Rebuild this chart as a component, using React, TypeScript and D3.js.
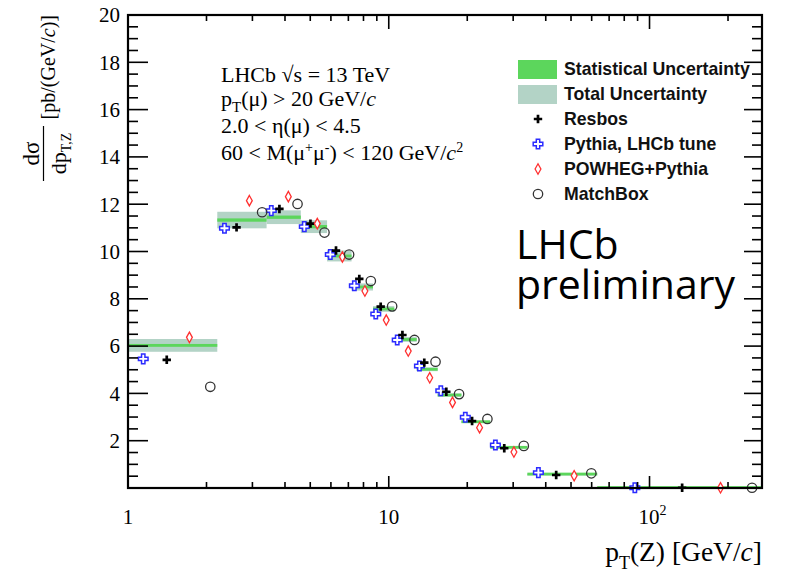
import React from "react";
import * as d3 from "d3";

// Z boson pT bins [GeV/c]
const binEdges = [0, 2.2, 3.4, 4.6, 5.8, 7.2, 8.7, 10.5, 12.8, 15.4, 19.0, 24.5, 34.0, 63.0, 270.0];

// measured cross-section per bin [pb/(GeV/c)]
const dataValues = [6.03, 11.33, 11.45, 11.05, 9.81, 8.5, 7.57, 6.28, 5.02, 3.93, 2.8, 1.72, 0.59, 0.02];
const statErr = [0.06, 0.07, 0.07, 0.07, 0.06, 0.06, 0.05, 0.05, 0.05, 0.04, 0.04, 0.03, 0.02, 0.01];
const totalErr = [0.27, 0.35, 0.29, 0.27, 0.23, 0.15, 0.12, 0.1, 0.08, 0.07, 0.05, 0.04, 0.02, 0.01];

// theory predictions
const resbos = [5.42, 11.02, 11.8, 11.18, 10.04, 8.84, 7.67, 6.47, 5.3, 4.07, 2.83, 1.68, 0.55, 0.01];
const pythia = [5.46, 10.98, 11.73, 11.05, 9.87, 8.55, 7.36, 6.26, 5.16, 4.11, 2.99, 1.82, 0.65, 0.01];
const powheg = [6.37, 12.15, 12.32, 11.18, 9.77, 8.33, 7.1, 5.79, 4.66, 3.62, 2.55, 1.52, 0.52, 0.01];
const matchbox = [4.28, 11.66, 12.01, 10.8, 9.87, 8.75, 7.68, 6.26, 5.34, 3.97, 2.92, 1.78, 0.62, 0.01];

const legendLabels = ["Statistical Uncertainty", "Total Uncertainty", "Resbos", "Pythia, LHCb tune", "POWHEG+Pythia", "MatchBox"];
const yTickLabels = [2, 4, 6, 8, 10, 12, 14, 16, 18, 20];
const xMajorTicks = [1, 10, 100];

const W = 787;
const H = 573;
const margin = { top: 15, right: 25, bottom: 85, left: 128 };

const serif = "'Liberation Serif', 'Times New Roman', serif";
const sans = "'Liberation Sans', Arial, sans-serif";

const STAT = "#5cd65c";
const TOTAL = "#b3d3c6";

// where each model sits inside a bin (fraction of bin width)
const modelOffsets = { pythia: 0.12, resbos: 0.34, powheg: 0.6, matchbox: 0.89 };

const Marker = ({ kind, cx, cy }: { kind: string; cx: number; cy: number }) => {
  if (kind === "resbos") {
    return (
      <path d={`M${cx - 4.2},${cy}H${cx + 4.2}M${cx},${cy - 4.2}V${cy + 4.2}`} stroke="#000" strokeWidth={2.7} fill="none" />
    );
  }
  if (kind === "pythia") {
    const a = 4.8, b = 1.7;
    const d = `M${cx - b},${cy - a}H${cx + b}V${cy - b}H${cx + a}V${cy + b}H${cx + b}V${cy + a}H${cx - b}V${cy + b}H${cx - a}V${cy - b}H${cx - b}Z`;
    return <path d={d} stroke="#2b2bff" strokeWidth={1.5} fill="#fff" />;
  }
  if (kind === "powheg") {
    return (
      <path d={`M${cx},${cy - 5.2}L${cx + 2.9},${cy}L${cx},${cy + 5.2}L${cx - 2.9},${cy}Z`} stroke="#ff3030" strokeWidth={1.3} fill="#fff" />
    );
  }
  return <circle cx={cx} cy={cy} r={4.7} stroke="#333" strokeWidth={1.3} fill="none" />;
};

export default function App() {
  const x = d3.scaleLog().domain([1, 270]).range([margin.left, W - margin.right]);
  const y = d3.scaleLinear().domain([0, 20]).range([H - margin.bottom, margin.top]);
  const x0 = margin.left, x1 = W - margin.right, y0 = H - margin.bottom, y1 = margin.top;

  const bins = dataValues.map((v, i) => ({
    lo: Math.max(binEdges[i], 1),
    hi: binEdges[i + 1],
    v,
    stat: statErr[i],
    tot: totalErr[i],
  }));

  const models = [
    { key: "pythia", vals: pythia },
    { key: "resbos", vals: resbos },
    { key: "powheg", vals: powheg },
    { key: "matchbox", vals: matchbox },
  ];

  const xMinor = x.ticks().filter((t) => !xMajorTicks.includes(t));
  const yAll = d3.range(0.5, 20, 0.5);

  return (
    <svg width={W} height={H} style={{ position: "absolute", left: 0, top: 0, background: "#fff" }}>
      <defs>
        <clipPath id="frame">
          <rect x={x0} y={y1} width={x1 - x0} height={y0 - y1} />
        </clipPath>
      </defs>

      <g clipPath="url(#frame)">
        {bins.map((b, i) => (
          <rect key={"t" + i} x={x(b.lo)} width={x(b.hi) - x(b.lo)} y={y(b.v + b.tot)} height={Math.max(2, y(b.v - b.tot) - y(b.v + b.tot))} fill={TOTAL} />
        ))}
        {bins.map((b, i) => {
          const h = Math.max(2.8, y(b.v - b.stat) - y(b.v + b.stat));
          return <rect key={"s" + i} x={x(b.lo)} width={x(b.hi) - x(b.lo)} y={y(b.v) - h / 2} height={h} fill={STAT} />;
        })}
      </g>

      {models.map((m) =>
        m.vals.map((v, i) => {
          const b = bins[i];
          const px = b.lo + (b.hi - b.lo) * (modelOffsets as any)[m.key];
          return <Marker key={m.key + i} kind={m.key} cx={x(px)} cy={y(v)} />;
        })
      )}

      {/* frame */}
      <rect x={x0} y={y1} width={x1 - x0} height={y0 - y1} fill="none" stroke="#000" strokeWidth={2.2} />

      {/* ticks on all four sides */}
      <g stroke="#000" strokeWidth={1.6}>
        {xMajorTicks.map((t) => (
          <g key={"xM" + t}>
            <line x1={x(t)} x2={x(t)} y1={y0} y2={y0 - 12} />
            <line x1={x(t)} x2={x(t)} y1={y1} y2={y1 + 14} />
          </g>
        ))}
        {xMinor.map((t) => (
          <g key={"xm" + t}>
            <line x1={x(t)} x2={x(t)} y1={y0} y2={y0 - 6} />
            <line x1={x(t)} x2={x(t)} y1={y1} y2={y1 + 6} />
          </g>
        ))}
        {yAll.map((t) => {
          const major = t % 2 === 0;
          return (
            <g key={"y" + t}>
              <line x1={x0} x2={x0 + (major ? 20 : 10)} y1={y(t)} y2={y(t)} />
              <line x1={x1} x2={x1 - (major ? 18 : 10)} y1={y(t)} y2={y(t)} />
            </g>
          );
        })}
      </g>

      {/* tick labels */}
      <g fontFamily={serif} fontSize={21} fill="#000">
        {yTickLabels.map((t) => (
          <text key={"yl" + t} x={x0 - 8} y={y(t)} dy="0.35em" textAnchor="end">
            {t}
          </text>
        ))}
        <text x={x(1)} y={524} textAnchor="middle">1</text>
        <text x={x(10)} y={524} textAnchor="middle">10</text>
        <text x={x(100) + 3} y={524} textAnchor="middle">
          10<tspan fontSize={14} dy={-9}>2</tspan>
        </text>
      </g>

      {/* x axis title */}
      <text x={x1} y={561} textAnchor="end" fontFamily={serif} fontSize={27.5}>
        p<tspan fontSize={18} dy={8}>T</tspan>
        <tspan dy={-8}>(Z) [GeV/</tspan>
        <tspan fontStyle="italic">c</tspan>]
      </text>

      {/* y axis title */}
      <g fontFamily={serif} fontSize={20}>
        <text transform="translate(55,15) rotate(-90)" textAnchor="end">
          [pb/(GeV/<tspan fontStyle="italic">c</tspan>)]
        </text>
        <text transform="translate(39,153.5) rotate(-90)" textAnchor="middle" fontSize={23}>
          dσ
        </text>
        <line x1={43.5} x2={43.5} y1={126} y2={181} stroke="#000" strokeWidth={1.2} />
        <text transform="translate(66,153.5) rotate(-90)" textAnchor="middle" fontSize={22}>
          dp<tspan fontSize={14} dy={5}>T,Z</tspan>
        </text>
      </g>

      {/* annotation */}
      <g fontFamily={serif} fontSize={22} fill="#000">
        <text x={221} y={82}>LHCb  √s = 13 TeV</text>
        <text x={221} y={106}>
          p<tspan fontSize={15} dy={6}>T</tspan>
          <tspan dy={-6}>(μ) &gt; 20 GeV/</tspan>
          <tspan fontStyle="italic">c</tspan>
        </text>
        <text x={221} y={133}>2.0 &lt; η(μ) &lt; 4.5</text>
        <text x={221} y={160}>
          60 &lt; M(μ<tspan fontSize={14} dy={-8}>+</tspan>
          <tspan dy={8}>μ</tspan>
          <tspan fontSize={14} dy={-8}>-</tspan>
          <tspan dy={8}>) &lt; 120 GeV/</tspan>
          <tspan fontStyle="italic">c</tspan>
          <tspan fontSize={14} dy={-8}>2</tspan>
        </text>
      </g>

      {/* legend */}
      <g fontFamily={sans} fontWeight="bold" fontSize={17.7} fill="#111">
        <rect x={518} y={60} width={39} height={19} fill={STAT} />
        <rect x={518} y={85} width={39} height={19} fill={TOTAL} />
        {legendLabels.map((l, i) => (
          <text key={l} x={564} y={69 + i * 25} dy="0.36em">
            {l}
          </text>
        ))}
        {["resbos", "pythia", "powheg", "matchbox"].map((k, i) => (
          <Marker key={"lg" + k} kind={k} cx={538} cy={119 + i * 25} />
        ))}
      </g>

      {/* preliminary label */}
      <g fontFamily="'Open Sans', sans-serif" fontSize={41} fill="#000">
        <text x={516} y={259}>LHCb</text>
        <text x={516} y={299}>preliminary</text>
      </g>
    </svg>
  );
}
